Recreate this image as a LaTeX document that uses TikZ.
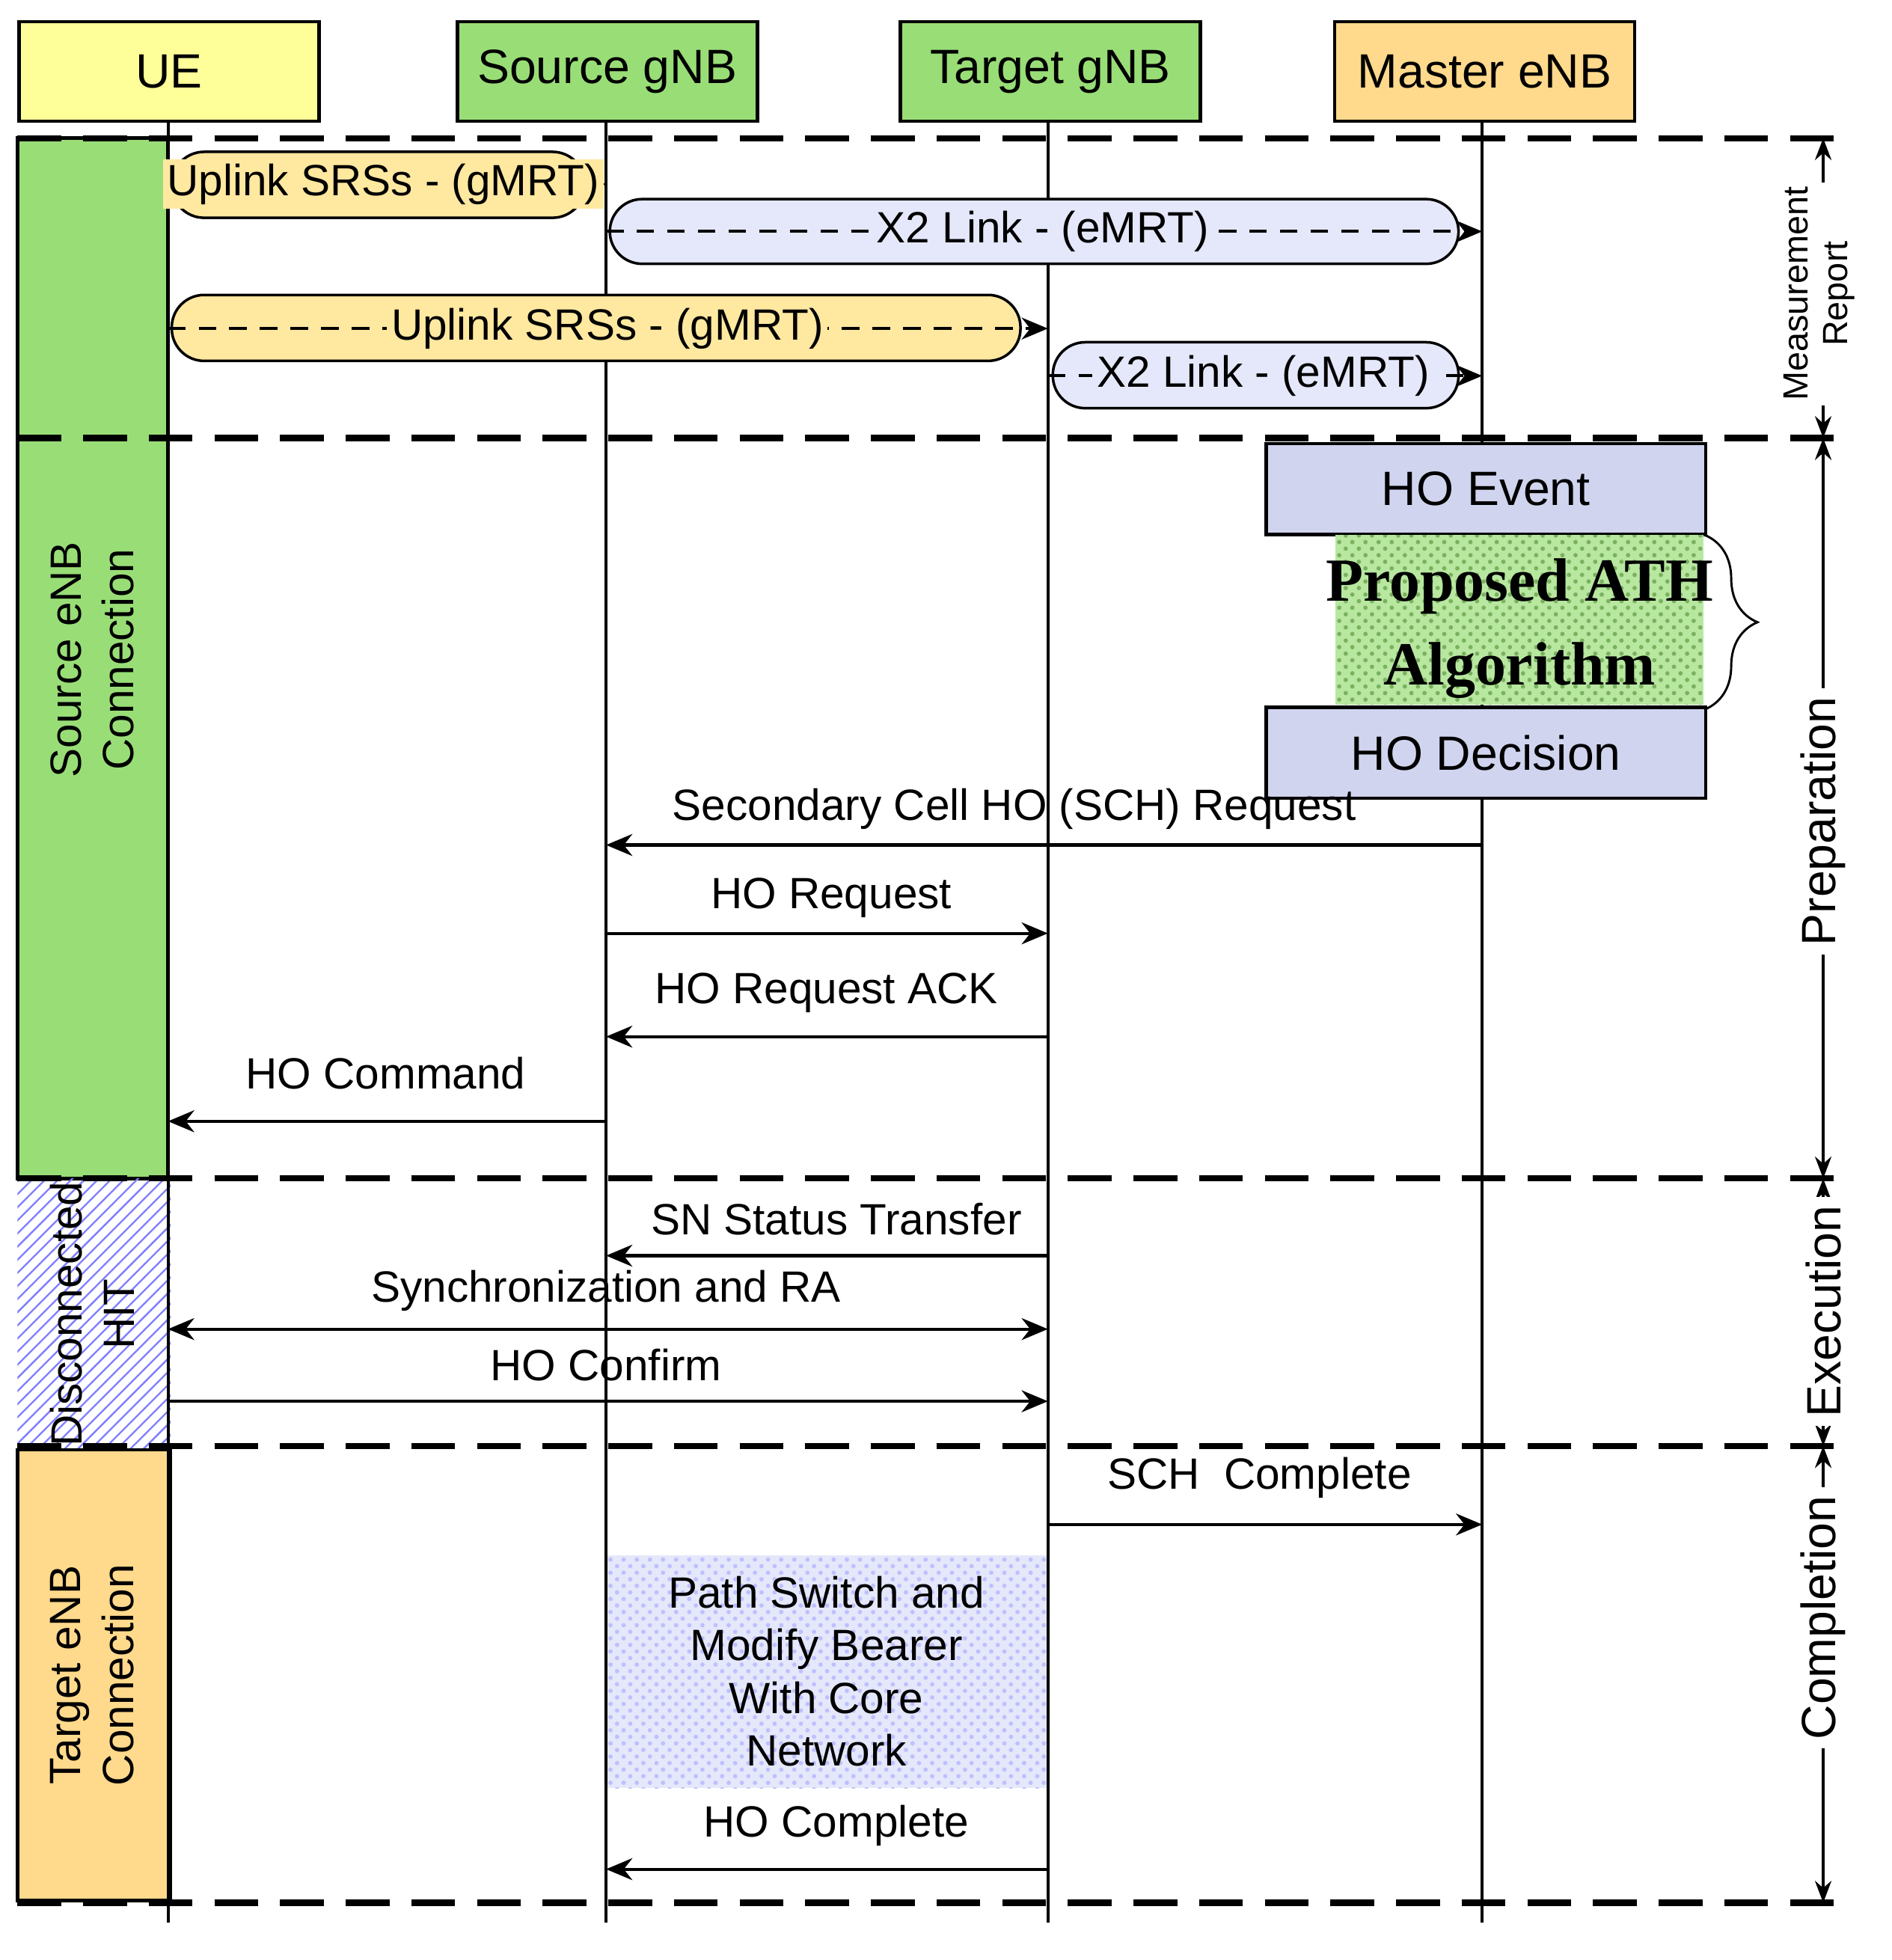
\documentclass[tikz,border=0pt]{standalone}
\usepackage{fontspec}
\setmainfont{Liberation Sans}
\newfontfamily\serifb{Liberation Serif}
\usetikzlibrary{arrows.meta,patterns,decorations.pathreplacing}
\definecolor{ueY}{HTML}{FFFF99}
\definecolor{gG}{HTML}{99DD77}
\definecolor{mO}{HTML}{FFD98C}
\definecolor{lav}{HTML}{D0D4EE}
\definecolor{lblue}{HTML}{E4E8FA}
\definecolor{lyel}{HTML}{FFE8A0}
\begin{document}
\begin{tikzpicture}[x=0.01cm,y=-0.01cm,font=\fontsize{10}{12}\selectfont,
 hdr/.style={draw,line width=0.8pt,minimum width=2.41cm,minimum height=0.8cm,anchor=north west},
 life/.style={line width=0.7pt},
 sep/.style={line width=1.4pt,dash pattern=on 10pt off 5pt},
 msg/.style={line width=0.7pt,-{Stealth[length=6pt,width=5pt]}},
 dmsg/.style={line width=0.7pt,dash pattern=on 4pt off 3pt,-{Stealth[length=6pt,width=5pt]}},
 pill/.style={draw,rounded corners=0.26cm,line width=0.6pt},
 bar/.style={draw,line width=0.8pt},
 dim/.style={line width=0.7pt,{Stealth[length=5pt]}-{Stealth[length=5pt]}},
 blk/.style={draw,line width=0.8pt,fill=lav,anchor=north west,minimum width=3.53cm,minimum height=0.73cm}]
\useasboundingbox (0,0) rectangle (1520,1575);
% headers
\node[hdr,fill=ueY] (ue) at (14,16) {\fontsize{11}{13}\selectfont UE};
\node[hdr,fill=gG] (sg) at (366,16) {\fontsize{11}{13}\selectfont Source gNB};
\node[hdr,fill=gG] (tg) at (722,16) {\fontsize{11}{13}\selectfont Target gNB};
\node[hdr,fill=mO] (me) at (1071,16) {\fontsize{11}{13}\selectfont Master eNB};
% left bars
\fill[gG] (14,111) rectangle (135,947); \draw[line width=0.8pt] (14,111) rectangle (135,947);
\node[rotate=90,align=center] (src) at (74,530) {Source eNB\\Connection};
\fill[pattern=north east lines,pattern color=blue!50] (14,947) rectangle (137,1165);
\node[rotate=90,align=center] (dis) at (74,1056) {Disconnected\\HIT};
\fill[mO] (14,1165) rectangle (137,1527); \draw[line width=0.8pt] (14,1165) rectangle (137,1527);
\node[rotate=90,align=center] (tgt) at (74,1346) {Target eNB\\Connection};
% path switch box
\fill[lblue] (487,1250) rectangle (842,1437);
\fill[pattern=crosshatch dots,pattern color=blue!25] (487,1250) rectangle (842,1437);
\node[align=center] (ps) at (664,1343) {Path Switch and\\Modify Bearer\\With Core\\Network};
% lifelines
\coordinate (ueB) at (135,1545); \coordinate (sgB) at (487,1545);
\coordinate (tgB) at (842,1545); \coordinate (meB) at (1191,1545);
\draw[life] (135,96) -- (ueB); \draw[life] (487,96) -- (sgB);
\draw[life] (842,96) -- (tgB); \draw[life] (1191,96) -- (meB);
% separators
\foreach \y in {111,352,947,1162,1529} \draw[sep] (14,\y) -- (1478,\y);
% measurement pills
\draw[pill,fill=lyel] (138,122) rectangle (470,175);
\draw[pill,fill=lblue] (490,160) rectangle (1172,212);
\draw[pill,fill=lyel] (138,237) rectangle (820,290);
\draw[pill,fill=lblue] (846,275) rectangle (1172,328);
\coordinate (a1) at (135,148); \coordinate (b1) at (487,148);
\draw[msg] (a1) -- (b1);
\node[fill=lyel,inner sep=1pt] (l1) at (308,148) {Uplink SRSs - (gMRT)};
\coordinate (a2) at (487,186); \coordinate (b2) at (1191,186);
\draw[dmsg] (a2) -- (b2);
\node[fill=lblue,inner sep=1pt] (l2) at (838,186) {X2 Link - (eMRT)};
\coordinate (a3) at (135,264); \coordinate (b3) at (842,264);
\draw[dmsg] (a3) -- (b3);
\node[fill=lyel,inner sep=1pt] (l3) at (488,264) {Uplink SRSs - (gMRT)};
\coordinate (a4) at (842,302); \coordinate (b4) at (1191,302);
\draw[dmsg] (a4) -- (b4);
\node[fill=lblue,inner sep=1pt] (l4) at (1015,302) {X2 Link - (eMRT)};
% HO blocks
\node[blk] (hoe) at (1016,355) {\fontsize{11}{13}\selectfont HO Event};
\fill[gG!70] (1073,430) rectangle (1369,566);
\fill[pattern=crosshatch dots,pattern color=gG!80!black] (1073,430) rectangle (1369,566);
\node[align=center,font=\serifb\bfseries\fontsize{14}{19}\selectfont] (ath) at (1221,505) {Proposed ATH\\Algorithm};
\node[blk] (hod) at (1016,567) {\fontsize{11}{13}\selectfont HO Decision};
\draw[decorate,decoration={brace,amplitude=12pt},line width=0.5pt] (1370,430) -- (1370,570);
% messages
\coordinate (m1a) at (1191,679); \coordinate (m1b) at (487,679);
\draw[msg] (m1a) -- (m1b); \node[above] (t1) at (815,679) {Secondary Cell HO (SCH) Request};
\coordinate (m2a) at (487,750); \coordinate (m2b) at (842,750);
\draw[msg] (m2a) -- (m2b); \node[above] (t2) at (668,750) {HO Request};
\coordinate (m3a) at (842,833); \coordinate (m3b) at (487,833);
\draw[msg] (m3a) -- (m3b); \node[above] (t3) at (664,826) {HO Request ACK};
\coordinate (m4a) at (487,901); \coordinate (m4b) at (135,901);
\draw[msg] (m4a) -- (m4b); \node[above] (t4) at (310,888) {HO Command};
\coordinate (m5a) at (842,1009); \coordinate (m5b) at (487,1009);
\draw[msg] (m5a) -- (m5b); \node[above] (t5) at (672,1005) {SN Status Transfer};
\coordinate (m6a) at (135,1068); \coordinate (m6b) at (842,1068);
\draw[msg,{Stealth[length=6pt,width=5pt]}-{Stealth[length=6pt,width=5pt]}] (m6a) -- (m6b);
\node[above] (t6) at (487,1066) {Synchronization and RA};
\coordinate (m7a) at (135,1126); \coordinate (m7b) at (842,1126);
\draw[msg] (m7a) -- (m7b); \node[above] (t7) at (487,1122) {HO Confirm};
\coordinate (m8a) at (842,1225); \coordinate (m8b) at (1191,1225);
\draw[msg] (m8a) -- (m8b); \node[above] (t8) at (1012,1216) {SCH\ \ Complete};
\coordinate (m9a) at (842,1502); \coordinate (m9b) at (487,1502);
\draw[msg] (m9a) -- (m9b); \node[above] (t9) at (672,1496) {HO Complete};
% phase dimensions
\coordinate (p0) at (1465,111); \coordinate (p1) at (1465,352);
\coordinate (p2) at (1465,947); \coordinate (p3) at (1465,1162);
\coordinate (p4) at (1465,1529);
\draw[dim] (p0) -- (p1);
\node[rotate=90,align=center,fill=white,inner sep=1pt,font=\fontsize{8}{9}\selectfont] (mr) at (1462,236) {Measurement\\Report};
\draw[dim] (p1) -- (p2);
\node[rotate=90,fill=white,inner sep=2pt,font=\fontsize{11}{13}\selectfont] (pr) at (1465,660) {Preparation};
\draw[dim] (p2) -- (p3);
\node[rotate=90,fill=white,inner sep=2pt,font=\fontsize{11}{13}\selectfont] (ex) at (1465,1054) {Execution};
\draw[dim] (p3) -- (p4);
\node[rotate=90,fill=white,inner sep=2pt,font=\fontsize{11}{13}\selectfont] (co) at (1465,1300) {Completion};
\end{tikzpicture}
\end{document}
